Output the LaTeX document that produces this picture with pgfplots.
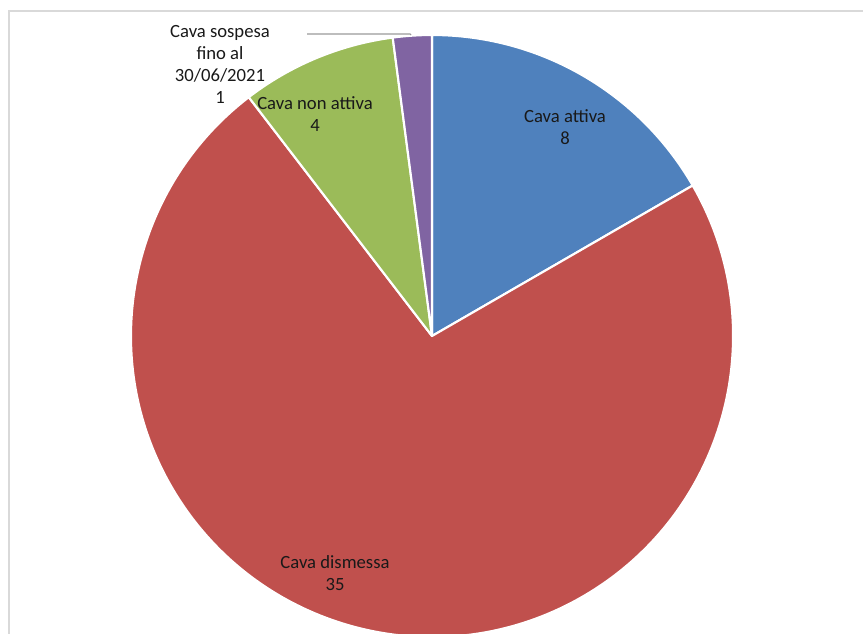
\documentclass[border=0pt]{standalone}
\usepackage{pgfplots}
\usepackage{pgfplotstable}
\pgfplotsset{compat=1.18}
\usepackage{fontspec}
\setmainfont{Carlito}
\definecolor{cblue}{HTML}{4F81BD}
\definecolor{cred}{HTML}{C0504D}
\definecolor{cgreen}{HTML}{9BBB59}
\definecolor{cpurple}{HTML}{8064A2}
\definecolor{frame}{HTML}{D9D9D9}
\pgfplotstableread{
value
8
35
4
1
}\piedata
\def\R{225.75pt}
\begin{document}
\begin{tikzpicture}
\pgfplotstablegetelem{0}{value}\of\piedata \global\let\va\pgfplotsretval
\pgfplotstablegetelem{1}{value}\of\piedata \global\let\vb\pgfplotsretval
\pgfplotstablegetelem{2}{value}\of\piedata \global\let\vc\pgfplotsretval
\pgfplotstablegetelem{3}{value}\of\piedata \global\let\vd\pgfplotsretval
\pgfmathsetmacro{\tot}{\va+\vb+\vc+\vd}
\pgfmathsetmacro{\aA}{90}\global\let\aA\aA
\pgfmathsetmacro{\aB}{\aA-360*\va/\tot}\global\let\aB\aB
\pgfmathsetmacro{\aC}{\aB-360*\vb/\tot}\global\let\aC\aC
\pgfmathsetmacro{\aD}{\aC-360*\vc/\tot}\global\let\aD\aD
\pgfmathsetmacro{\aE}{\aD-360*\vd/\tot}\global\let\aE\aE
\begin{axis}[
  scale only axis, width=647.25pt, height=474.75pt,
  xmin=0, xmax=863, ymin=0, ymax=633,
  axis line style={draw=none}, ticks=none, clip=true,
]
\begin{scope}
\clip (axis cs:0,0) rectangle (axis cs:863,633);
\draw[frame, line width=1.2pt] (axis cs:9,-20) -- (axis cs:9,622) -- (axis cs:880,622);
\fill[cblue, draw=white, line width=1.6pt, line join=round] (axis cs:432,297) -- ++(\aA:\R) arc[start angle=\aA, end angle=\aB, radius=\R] -- cycle;
\fill[cred, draw=white, line width=1.6pt, line join=round] (axis cs:432,297) -- ++(\aB:\R) arc[start angle=\aB, end angle=\aC, radius=\R] -- cycle;
\fill[cgreen, draw=white, line width=1.6pt, line join=round] (axis cs:432,297) -- ++(\aC:\R) arc[start angle=\aC, end angle=\aD, radius=\R] -- cycle;
\fill[cpurple, draw=white, line width=1.6pt, line join=round] (axis cs:432,297) -- ++(\aD:\R) arc[start angle=\aD, end angle=\aE, radius=\R] -- cycle;
\end{scope}
\draw[gray!80, line width=0.8pt] (axis cs:307,599) -- (axis cs:410,599) -- (axis cs:411,598);
\tikzset{lbl/.style={align=center, font=\fontsize{14}{16.5}\selectfont, text=black!90, inner sep=0pt}}
\node[lbl] at (axis cs:565,506) {Cava attiva\\8};
\node[lbl] at (axis cs:315,519) {Cava non attiva\\4};
\node[lbl] at (axis cs:335,60) {Cava dismessa\\35};
\node[lbl] at (axis cs:220,569) {Cava sospesa\\fino al\\30/06/2021\\1};
\end{axis}
\end{tikzpicture}
\end{document}
